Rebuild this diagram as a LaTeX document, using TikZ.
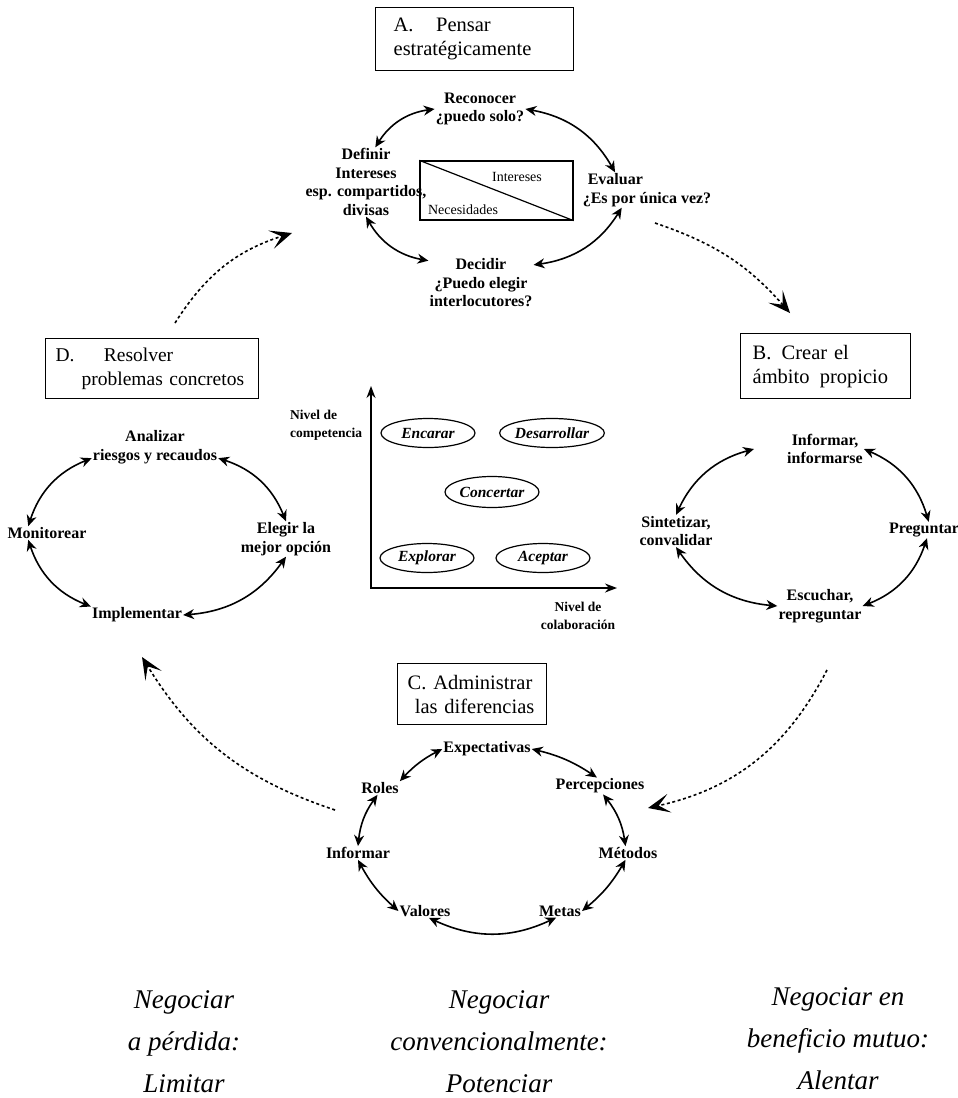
\documentclass[tikz,border=0pt]{standalone}
\usepackage{fontspec}
\setmainfont{Liberation Serif}
\usetikzlibrary{arrows.meta,shapes.geometric,calc}

\begin{document}
\begin{tikzpicture}[x=1pt,y=-1pt,
  every node/.style={inner sep=1pt},
  titlebox/.style={draw, line width=1.3pt, align=left, anchor=north west,
    font=\fontsize{20.5}{24}\selectfont, inner ysep=0pt},
  lbl/.style={align=center, font=\bfseries\fontsize{16}{18.5}\selectfont},
  cyc/.style={line width=1.6pt,
    {Stealth[length=11pt,width=10pt]}-{Stealth[length=11pt,width=10pt]}},
  hop/.style={line width=1.6pt, dash pattern=on 3pt off 2.6pt,
    -{Stealth[length=22pt,width=19pt,inset=11pt]}},
  oval/.style={ellipse, draw, line width=1.2pt, minimum width=94pt,
    minimum height=29pt, inner sep=0pt,
    font=\bfseries\itshape\fontsize{15.5}{17}\selectfont},
  axlbl/.style={font=\bfseries\fontsize{13.5}{18}\selectfont},
  closing/.style={align=center, font=\itshape\fontsize{27}{42}\selectfont}
]
\useasboundingbox (0,0) rectangle (958,1098);

% ---------- A. Pensar estratégicamente ----------
\node[titlebox, text width=162, minimum height=63, inner xsep=18] (boxA) at (375,7)
  {A.\hspace{1.1em}Pensar\\estratégicamente};

\node[lbl] (reco) at (480,109) {Reconocer\\¿puedo solo?};
\node[lbl] (defi) at (366,182) {Definir\\Intereses\\esp. compartidos,\\divisas};
\node[lbl, align=left] (eval) at (647,190) {\hspace*{5pt}Evaluar\\¿Es por única vez?};
\node[lbl] (deci) at (481,283) {Decidir\\¿Puedo elegir\\interlocutores?};

\node[draw, line width=1.3pt, minimum width=153, minimum height=59, inner sep=0] (need) at (496.5,190.5) {};
\draw[line width=1.2pt] (need.north west) -- (need.south east);
\node[font=\fontsize{14}{16}\selectfont] (intr) at (517,177) {Intereses};
\node[font=\fontsize{14}{16}\selectfont] (nece) at (463,210) {Necesidades};

\draw[cyc] (defi.75) to[bend left=25] (reco.west);
\draw[cyc] (reco.east) to[bend left=25] (eval.151);
\draw[cyc] (eval.215) to[bend left=25] (deci.19);
\draw[cyc] (deci.157) to[bend left=25] (defi.south);

% ---------- B. Crear el ámbito propicio ----------
\node[titlebox, text width=146, minimum height=65, inner xsep=12] (boxB) at (740,333)
  {B.\hspace{0.5em}Crear el\\ámbito\hspace{0.5em}propicio};

\node[lbl] (info) at (825,449) {Informar,\\informarse};
\node[lbl] (preg) at (924,530) {Preguntar};
\node[lbl] (sint) at (676,531) {Sintetizar,\\convalidar};
\node[lbl] (escu) at (820,606) {Escuchar,\\repreguntar};

\draw[cyc] (sint.north) to[bend left=25] ([xshift=-32pt]info.west);
\draw[cyc] (info.east) to[bend left=25] (preg.60);
\draw[cyc] (preg.-70) to[bend left=25] (escu.east);
\draw[cyc] (escu.west) to[bend left=25] (sint.south);

% ---------- C. Administrar las diferencias ----------
\node[titlebox, text width=129, minimum height=61, inner xsep=10] (boxC) at (397,663)
  {C. Administrar\\\hspace*{0.35em}las diferencias};

\node[lbl] (expe) at (487,749) {Expectativas};
\node[lbl] (perc) at (600,786) {Percepciones};
\node[lbl] (meto) at (628,853) {Métodos};
\node[lbl] (meta) at (560,911) {Metas};
\node[lbl] (valo) at (425,911) {Valores};
\node[lbl] (infc) at (358,853) {Informar};
\node[lbl] (role) at (380,788) {Roles};

\draw[cyc] (role.north east) to[bend left=10] (expe.west);
\draw[cyc] (expe.east) to[bend left=10] (perc.110);
\draw[cyc] (perc.-70) to[bend left=15] (meto.110);
\draw[cyc] (meto.250) to[bend left=10] (meta.east);
\draw[cyc] (meta.240) to[bend left=25] (valo.-60);
\draw[cyc] (valo.west) to[bend left=10] (infc.south);
\draw[cyc] (infc.north) to[bend left=15] (role.250);

% ---------- D. Resolver problemas concretos ----------
\node[titlebox, text width=201, minimum height=60, inner xsep=6,
      font=\fontsize{19.5}{24}\selectfont] (boxD) at (45,338)
  {\hspace*{4pt}D.\hspace{1.5em}Resolver\\\hspace*{30pt}\mbox{problemas concretos}};

\node[lbl] (anal) at (155,447) {Analizar\\riesgos y recaudos};
\node[lbl] (moni) at (47,533) {Monitorear};
\node[lbl] (eleg) at (286,539) {Elegir la\\mejor opción};
\node[lbl] (impl) at (137,615) {Implementar};

\draw[cyc] (moni.160) to[bend left=25] (anal.190);
\draw[cyc] (anal.350) to[bend left=25] (eleg.north);
\draw[cyc] (eleg.south) to[bend left=25] (impl.east);
\draw[cyc] (impl.north west) to[bend left=25] (moni.200);

% ---------- central chart ----------
\coordinate (ytop) at (371,386);
\coordinate (orig) at (371,588);
\coordinate (xend) at (617,588);
\draw[line width=1.5pt, {Stealth[length=12pt,width=9pt]}-{Stealth[length=12pt,width=9pt]}]
  (ytop) -- (orig) -- (xend);
\node[axlbl, align=left, anchor=west] (ycap) at (289,425) {Nivel de\\competencia};
\node[axlbl, align=center] (xcap) at (578,616) {Nivel de\\colaboración};

\node[oval] (enca) at (428,433) {Encarar};
\node[oval] (desa) at (552,433) {Desarrollar};
\node[oval, minimum height=31pt] (conc) at (492,492) {Concertar};
\node[oval] (expl) at (427,558) {Explorar};
\node[oval] (acep) at (543,558) {Aceptar};

% ---------- dotted transitions between stages ----------
\coordinate (dA) at (175,323);  \coordinate (dAe) at (292,233);
\coordinate (dB) at (655,223);  \coordinate (dBe) at (790,313);
\coordinate (dC) at (827,670);  \coordinate (dCe) at (648,808);
\coordinate (dD) at (335,810);  \coordinate (dDe) at (142,657);
\draw[hop] (dA) to[bend left=20] (dAe);
\draw[hop] (dB) to[bend left=15] (dBe);
\draw[hop] (dC) to[bend left=25] (dCe);
\draw[hop] (dD) to[bend left=20] (dDe);

% ---------- closing captions ----------
\node[closing] (cap1) at (184,1042) {Negociar\\a pérdida:\\Limitar};
\node[closing] (cap2) at (499,1042) {Negociar\\convencionalmente:\\Potenciar};
\node[closing] (cap3) at (838,1039) {Negociar en\\beneficio mutuo:\\Alentar};
\end{tikzpicture}
\end{document}
